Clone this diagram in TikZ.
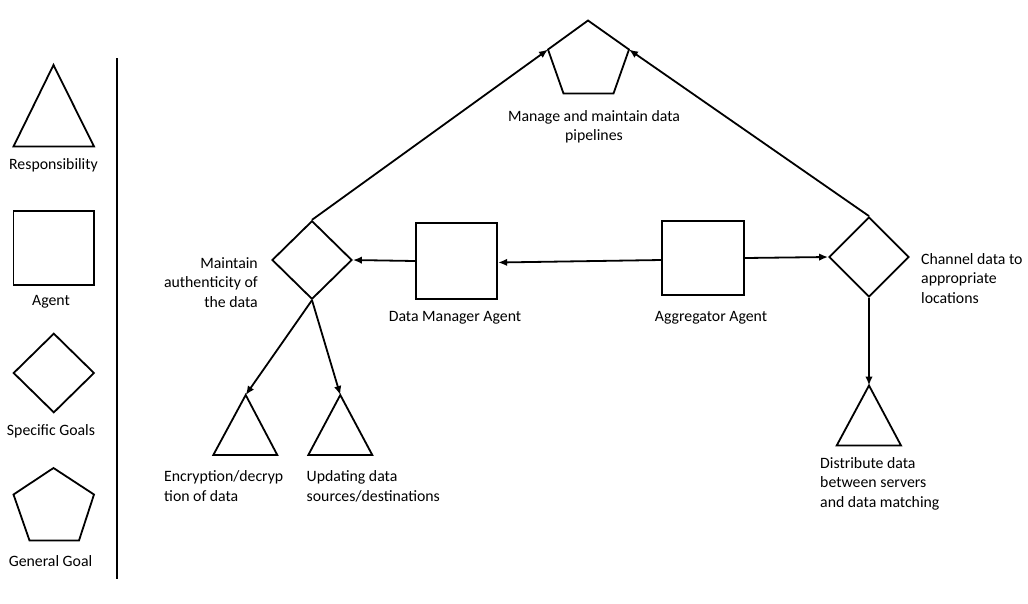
\documentclass[tikz,border=0pt]{standalone}
\usepackage{fontspec}
\setmainfont{Carlito}
\usetikzlibrary{arrows.meta,shapes.geometric}
\begin{document}
\begin{tikzpicture}[x=1pt,y=-1pt,
  outline/.style={draw=black,line width=1.8pt,line join=miter},
  agentbox/.style={outline,rectangle,inner sep=0pt},
  goalbox/.style={outline,diamond,minimum width=80pt,minimum height=80pt,inner sep=0pt},
  link/.style={line width=1.8pt,-{Latex[length=9pt,width=7.5pt]}},
  lbl/.style={font=\fontsize{15.8}{19.5}\selectfont,inner sep=0pt},
]
\useasboundingbox (0,0) rectangle (1028,603);

% ---------- legend ----------
\draw[outline] (53.5,65) -- (94,146.5) -- (13.5,146.5) -- cycle;
\node[lbl] (lgResp) at (53.5,165.5) {Responsibility};
\node[agentbox,minimum width=80.5pt,minimum height=74pt] (lgAgent) at (53.8,248) {};
\node[lbl] (lgAgentTxt) at (51,301.5) {Agent};
\node[goalbox,minimum width=81pt,minimum height=79.5pt] (lgGoal) at (53.8,373) {};
\node[lbl] (lgGoalTxt) at (51,431.5) {Specific Goals};
\draw[outline] (53.5,468) -- (94,494.5) -- (79,540.5) -- (29.5,540.5) -- (13.5,494.5) -- cycle;
\node[lbl] (lgGeneral) at (50.5,561.5) {General Goal};
\coordinate (divTop) at (117,58);
\coordinate (divBot) at (117,579);
\draw[line width=1.8pt] (divTop) -- (divBot);

% ---------- general goal ----------
\coordinate (ggTop) at (588,20.5);
\coordinate (ggLeft) at (548,49.5);
\coordinate (ggRight) at (629,49.5);
\draw[outline] (ggTop) -- (ggRight) -- (613.5,93.5) -- (563.5,93.5) -- (ggLeft) -- cycle;
\node[lbl,align=center] (ggTxt) at (594,127) {Manage and maintain data\\pipelines};

% ---------- agents ----------
\node[agentbox,minimum width=81.5pt,minimum height=75.5pt] (dma) at (456.5,261) {};
\node[lbl] (dmaTxt) at (455,317.5) {Data Manager Agent};
\node[agentbox,minimum width=82pt,minimum height=74.5pt] (agg) at (703.3,258) {};
\node[lbl] (aggTxt) at (711,317.5) {Aggregator Agent};

% ---------- specific goals ----------
\node[goalbox,minimum height=78.5pt] (sgAuth) at (312,260) {};
\node[lbl,align=right,anchor=east] (sgAuthTxt) at (258,282.5) {Maintain\\authenticity of\\the data};
\node[goalbox] (sgChan) at (869,257) {};
\node[lbl,align=left,anchor=west] (sgChanTxt) at (921,278.5) {Channel data to\\appropriate\\locations};

% ---------- responsibilities ----------
\coordinate (rEnc) at (245.7,395);
\draw[outline] (rEnc) -- (277.3,455) -- (213.3,455) -- cycle;
\node[lbl,align=left,anchor=north west] (rEncTxt) at (164,470.5) {Encryption/decryp\\tion of data};
\coordinate (rUpd) at (340.3,395);
\draw[outline] (rUpd) -- (372.3,455) -- (308.3,455) -- cycle;
\node[lbl,align=left,anchor=north west] (rUpdTxt) at (306.5,470.5) {Updating data\\sources/destinations};
\coordinate (rDist) at (869,385.5);
\draw[outline] (rDist) -- (901,445.5) -- (836.7,445.5) -- cycle;
\node[lbl,align=left,anchor=north west] (rDistTxt) at (820,457) {Distribute data\\between servers\\and data matching};

% ---------- connectors ----------
\draw[link] (sgAuth.north) -- (ggLeft);
\draw[link] (sgChan.north) -- (ggRight);
\draw[link] (dma.west) -- (sgAuth.east);
\draw[link] ([yshift=-2pt]agg.west) -- ([yshift=-1.5pt]dma.east);
\draw[link] (agg.east) -- (sgChan.west);
\draw[link] (sgAuth.south) -- (rEnc);
\draw[link] (sgAuth.south) -- (rUpd);
\draw[link] (sgChan.south) -- (rDist);
\end{tikzpicture}
\end{document}
